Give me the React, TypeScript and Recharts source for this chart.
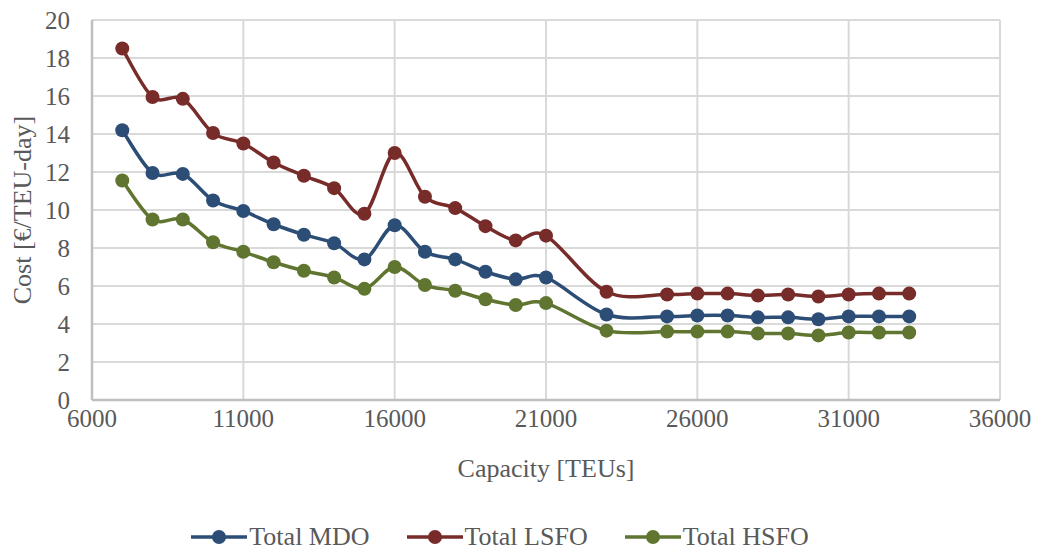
import React from 'react'
import { LineChart, Line, XAxis, YAxis, CartesianGrid, Legend, Label } from 'recharts'

const capacity = [7000, 8000, 9000, 10000, 11000, 12000, 13000, 14000, 15000, 16000, 17000, 18000, 19000, 20000, 21000, 23000, 25000, 26000, 27000, 28000, 29000, 30000, 31000, 32000, 33000]
const totalMDO = [14.2, 11.95, 11.9, 10.5, 9.95, 9.25, 8.7, 8.25, 7.4, 9.2, 7.8, 7.4, 6.75, 6.35, 6.45, 4.5, 4.4, 4.45, 4.45, 4.35, 4.35, 4.25, 4.4, 4.4, 4.4]
const totalLSFO = [18.5, 15.95, 15.85, 14.05, 13.5, 12.5, 11.8, 11.15, 9.8, 13.0, 10.7, 10.1, 9.15, 8.4, 8.65, 5.7, 5.55, 5.6, 5.6, 5.5, 5.55, 5.45, 5.55, 5.6, 5.6]
const totalHSFO = [11.55, 9.5, 9.5, 8.3, 7.8, 7.25, 6.8, 6.45, 5.85, 7.0, 6.05, 5.75, 5.3, 5.0, 5.1, 3.65, 3.6, 3.6, 3.6, 3.5, 3.5, 3.4, 3.55, 3.55, 3.55]
const xTicks = [6000, 11000, 16000, 21000, 26000, 31000, 36000]
const yTicks = [0, 2, 4, 6, 8, 10, 12, 14, 16, 18, 20]

const data = capacity.map((c, i) => ({
    capacity: c,
    mdo: totalMDO[i],
    lsfo: totalLSFO[i],
    hsfo: totalHSFO[i],
}))

const SERIES = [
    { key: 'mdo', name: 'Total MDO', color: '#2c4d75' },
    { key: 'lsfo', name: 'Total LSFO', color: '#772c2a' },
    { key: 'hsfo', name: 'Total HSFO', color: '#5f7530' },
]

const FONT = '"Liberation Serif", "Times New Roman", serif'
const TEXT = '#595959'

// Excel-style smoothed line (uniform Catmull-Rom as cubic beziers)
function excelCurve(context: any) {
    let pts: [number, number][] = []
    return {
        areaStart() {},
        areaEnd() {},
        lineStart() {
            pts = []
        },
        point(x: number, y: number) {
            pts.push([+x, +y])
        },
        lineEnd() {
            const n = pts.length
            if (n === 0) return
            context.moveTo(pts[0][0], pts[0][1])
            for (let i = 0; i < n - 1; i++) {
                const p0 = pts[Math.max(0, i - 1)]
                const p1 = pts[i]
                const p2 = pts[i + 1]
                const p3 = pts[Math.min(n - 1, i + 2)]
                context.bezierCurveTo(
                    p1[0] + (p2[0] - p0[0]) / 6,
                    p1[1] + (p2[1] - p0[1]) / 6,
                    p2[0] - (p3[0] - p1[0]) / 6,
                    p2[1] - (p3[1] - p1[1]) / 6,
                    p2[0],
                    p2[1],
                )
            }
        },
    }
}

const LegendContent = () => (
    <div style={{ display: 'flex', justifyContent: 'center', alignItems: 'center', gap: 37, height: 30, fontFamily: FONT, fontSize: 26, color: TEXT }}>
        {SERIES.map((s) => (
            <div key={s.key} style={{ display: 'flex', alignItems: 'center', gap: 2 }}>
                <svg width={56} height={16}>
                    <line x1={0} y1={8} x2={56} y2={8} stroke={s.color} strokeWidth={3.5} />
                    <circle cx={28} cy={8} r={7} fill={s.color} />
                </svg>
                <span style={{ lineHeight: '30px' }}>{s.name}</span>
            </div>
        ))}
    </div>
)

export default function App() {
    return (
        <div style={{ position: 'absolute', left: 0, top: 0, width: 1038, height: 552, background: '#fff' }}>
            <LineChart width={1038} height={552} data={data} margin={{ top: 20, right: 38, left: 0, bottom: 0 }}>
                <CartesianGrid stroke="#d9d9d9" strokeWidth={2} />
                <XAxis
                    dataKey="capacity"
                    type="number"
                    domain={[6000, 36000]}
                    ticks={xTicks}
                    height={122}
                    tickLine={false}
                    tickSize={0}
                    tickMargin={9}
                    axisLine={{ stroke: '#bfbfbf', strokeWidth: 2.5 }}
                    tick={{ fill: TEXT, fontSize: 25, fontFamily: FONT }}
                >
                    <Label value="Capacity [TEUs]" position="insideBottom" offset={45} style={{ fill: TEXT, fontSize: 26, fontFamily: FONT }} />
                </XAxis>
                <YAxis
                    type="number"
                    domain={[0, 20]}
                    ticks={yTicks}
                    width={92}
                    tickLine={false}
                    tickSize={0}
                    tickMargin={22}
                    axisLine={{ stroke: '#bfbfbf', strokeWidth: 2.5 }}
                    tick={{ fill: TEXT, fontSize: 25, fontFamily: FONT }}
                >
                    <Label
                        value="Cost [€/TEU-day]"
                        angle={-90}
                        position="insideLeft"
                        offset={22}
                        style={{ fill: TEXT, fontSize: 26, fontFamily: FONT, textAnchor: 'middle' }}
                    />
                </YAxis>
                <Legend verticalAlign="bottom" content={<LegendContent />} wrapperStyle={{ height: 30, bottom: 0 }} />
                {SERIES.map((s) => (
                    <Line
                        key={s.key}
                        dataKey={s.key}
                        name={s.name}
                        type={excelCurve as any}
                        stroke={s.color}
                        strokeWidth={3.5}
                        dot={{ r: 7, fill: s.color, stroke: s.color, strokeWidth: 0 }}
                        activeDot={false}
                        isAnimationActive={false}
                    />
                ))}
            </LineChart>
        </div>
    )
}
